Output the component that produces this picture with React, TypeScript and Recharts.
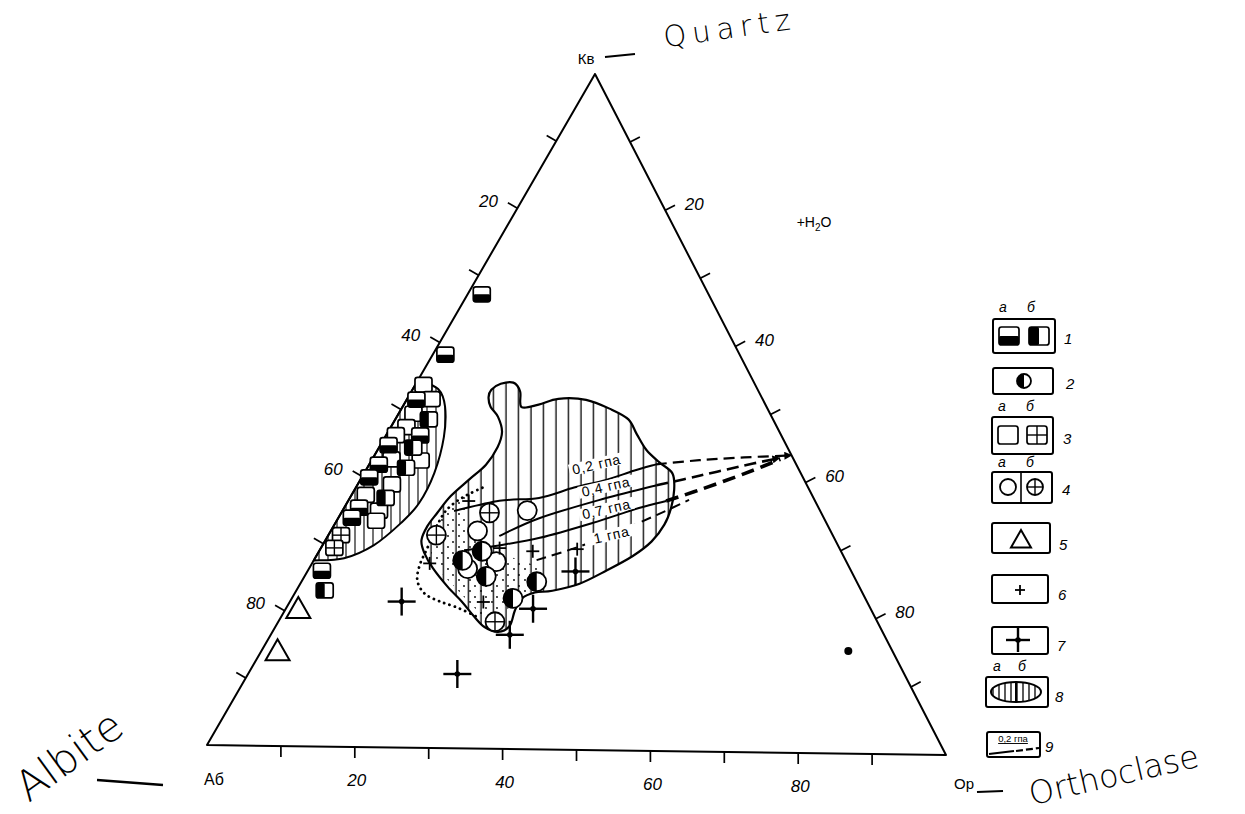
import React from 'react';
import { ScatterChart, Scatter, XAxis, YAxis } from 'recharts';

const W = 1245;
const H = 814;

// Ternary frame corners in chart units: Кв (apex), Аб (bottom-left), Ор (bottom-right)
const APEX = { x: 595, y: 74 };
const AB_V = { x: 207, y: 745 };
const OR_V = { x: 946, y: 755 };

type TP = [number, number]; // [Кв %, Ор %]; Аб = 100 - Кв - Ор

// ---------- data (ternary %) ----------
const TICK_VALUES = [10, 20, 30, 40, 50, 60, 70, 80, 90];
const LABELLED_TICKS = [20, 40, 60, 80];

const TYPE_1A: TP[] = [[67.2, 1.9], [58.2, 1.7], [51.5, 1.3], [46.2, 4.6], [44.7, 1.1], [41.8, 1.3], [39.9, 1.0], [35.4, 2.0], [33.9, 1.8], [26.0, 1.9]];
const TYPE_1B: TP[] = [[48.6, 4.5], [44.4, 4.6], [41.4, 5.2], [36.9, 4.8], [23.1, 3.8]];
const TYPE_3A: TP[] = [[53.7, 1.1], [51.6, 3.3], [49.4, 2.0], [47.4, 2.1], [46.2, 1.3], [42.5, 6.6], [42.6, 2.6], [38.9, 4.6], [37.3, 1.9], [35.0, 4.9], [33.5, 5.3]];
const TYPE_3B: TP[] = [[31.3, 1.7], [29.4, 1.8]];
const TYPE_2: TP[] = [[29.2, 21.9], [27.8, 20.0], [25.5, 24.4], [24.8, 31.6], [22.3, 29.7]];
const TYPE_4A: TP[] = [[35.3, 24.8], [32.2, 19.7], [27.7, 24.6], [26.6, 21.3]];
const TYPE_4B: TP[] = [[34.9, 19.9], [31.5, 14.5], [18.8, 29.1]];
const TYPE_5: TP[] = [[20.3, 1.7], [14.0, 2.2]];
const TYPE_6: TP[] = [[36.6, 16.2], [29.7, 24.0], [27.3, 15.8], [21.7, 26.0], [29.7, 34.5], [29.3, 28.7]];
const TYPE_7: TP[] = [[21.6, 15.0], [11.0, 28.1], [16.9, 32.1], [20.8, 33.2], [26.4, 36.0]];
const DOTS: TP[] = [[15.2, 78.8]];

const MAIN_FIELD: TP[] = [
  [52.0, 10.8], [53.1, 10.6], [54.0, 11.4], [54.2, 13.0], [52.9, 14.6], [50.6, 16.0], [51.0, 18.1], [51.9, 20.3],
  [51.8, 24.1], [50.4, 28.3], [49.0, 31.3], [46.8, 33.6], [44.5, 36.1], [42.7, 38.8], [41.1, 41.4], [38.7, 42.9],
  [36.0, 43.9], [33.5, 44.3], [31.0, 43.9], [28.8, 42.5], [26.6, 40.1], [24.6, 37.5], [23.5, 34.4], [23.2, 32.2],
  [22.3, 30.9], [20.5, 30.9], [18.2, 31.4], [17.3, 30.3], [18.0, 28.1], [19.6, 25.8], [21.7, 23.1], [23.9, 20.0],
  [26.6, 16.6], [28.8, 14.3], [30.7, 12.9], [32.8, 12.6], [34.8, 12.9], [37.3, 13.4], [39.8, 14.6], [42.0, 15.7],
  [44.6, 15.9], [46.9, 15.3], [49.1, 13.6], [50.6, 11.8],
];
const SQUARE_FIELD: TP[] = [[54.4, 0], [53.1, 3.4], [50.5, 5.7], [46.0, 7.9], [40.7, 9.4], [36.2, 9.7], [33.2, 8.8], [29.9, 6.9], [27.9, 3.9], [27.5, 0]];
const DOTTED_EDGE: TP[] = [[38.6, 17.0], [37.4, 15.4], [35.9, 14.2], [34.0, 13.8], [29.5, 14.3], [27.0, 14.6], [24.7, 15.5], [22.8, 17.5], [21.7, 20.1], [20.8, 23.0], [19.5, 26.3]];
const STIPPLE_FIELD: TP[] = [[37.5, 15.5], [34.5, 13.8], [31.0, 13.8], [28.5, 15.5], [26.0, 18.0], [23.5, 21.5], [21.0, 25.0], [19.5, 27.5], [20.5, 29.5], [23.5, 32.0], [26.5, 31.5], [28.5, 26.0], [31.5, 19.5], [35.0, 17.0]];

const LINE_02: TP[] = [[35.1, 15.0], [36.7, 20.3], [37.2, 25.4], [38.8, 29.3], [40.0, 33.0], [41.4, 36.0], [42.4, 38.5]];
const LINE_02_EXT: TP[] = [[42.4, 38.5], [43.1, 44.0], [43.6, 49.8], [44.0, 56.0]];
const LINE_04: TP[] = [[31.5, 23.0], [34.2, 27.0], [37.0, 33.6], [39.3, 40.2]];
const LINE_04_EXT: TP[] = [[39.3, 40.2], [40.8, 45.2], [42.4, 50.4], [43.6, 54.6]];
const LINE_07: TP[] = [[29.3, 19.4], [30.1, 23.7], [31.3, 28.6], [33.6, 34.5], [35.9, 39.6], [37.0, 42.7]];
const LINE_07_EXT: TP[] = [[37.0, 42.7], [38.7, 46.3], [41.2, 51.1], [43.4, 54.8]];
const LINE_1: TP[] = [[28.0, 29.9], [30.1, 34.6], [32.5, 38.8], [34.9, 42.5], [37.2, 45.7]];

const LINE_LABELS = [
  { kv: 42.3, or: 30.5, text: '0,2 гпа' },
  { kv: 39.0, or: 33.5, text: '0,4 гпа' },
  { kv: 35.7, or: 35.3, text: '0,7 гпа' },
  { kv: 31.9, or: 38.0, text: '1 гпа' },
];

// ---------- helpers ----------
const toXY = (kv: number, or: number) => {
  const ab = 100 - kv - or;
  return {
    x: (kv * APEX.x + ab * AB_V.x + or * OR_V.x) / 100,
    y: (kv * APEX.y + ab * AB_V.y + or * OR_V.y) / 100,
  };
};
const pts = (arr: TP[]) => arr.map(([kv, or]) => ({ ...toXY(kv, or), kv, or }));

type P = { x: number; y: number };
function smooth(points: P[], closed: boolean): string {
  const n = points.length;
  if (n < 2) return '';
  const get = (i: number) => (closed ? points[(i + n) % n] : points[Math.max(0, Math.min(n - 1, i))]);
  let d = `M${points[0].x},${points[0].y}`;
  const segs = closed ? n : n - 1;
  for (let i = 0; i < segs; i++) {
    const p0 = get(i - 1), p1 = get(i), p2 = get(i + 1), p3 = get(i + 2);
    const c1x = p1.x + (p2.x - p0.x) / 6, c1y = p1.y + (p2.y - p0.y) / 6;
    const c2x = p2.x - (p3.x - p1.x) / 6, c2y = p2.y - (p3.y - p1.y) / 6;
    d += ` C${c1x},${c1y} ${c2x},${c2y} ${p2.x},${p2.y}`;
  }
  if (closed) d += ' Z';
  return d;
}

const pathRenderer = (o: any) => (props: any) => {
  const p: P[] = props.points || [];
  let d: string;
  if (o.straight) d = 'M' + p.map((q) => `${q.x},${q.y}`).join(' L') + (o.closed ? ' Z' : '');
  else d = smooth(p, !!o.closed) + (o.closeStraight ? ' Z' : '');
  return (
    <path
      d={d}
      fill={o.fill || 'none'}
      stroke={o.stroke || 'none'}
      strokeWidth={o.strokeWidth || 1}
      strokeDasharray={o.dash}
      strokeLinecap={o.cap || 'butt'}
      strokeLinejoin="round"
      markerEnd={o.markerEnd}
    />
  );
};

const Empty = () => <g />;
const INK = '#000';

// ---------- marker shapes ----------
const Sq = ({ cx, cy, kind, s = 8.5 }: any) => (
  <g>
    <rect x={cx - s} y={cy - s + 1} width={2 * s} height={2 * s - 2} rx={2.5} fill="#fff" stroke={INK} strokeWidth={1.7} />
    {kind === '1a' && <rect x={cx - s} y={cy} width={2 * s} height={s - 1} rx={1.5} fill={INK} />}
    {kind === '1b' && <rect x={cx - s} y={cy - s + 1} width={s} height={2 * s - 2} rx={1.5} fill={INK} />}
    {kind === '3b' && (
      <g stroke={INK} strokeWidth={1.4}>
        <line x1={cx} y1={cy - s + 1} x2={cx} y2={cy + s - 1} />
        <line x1={cx - s} y1={cy} x2={cx + s} y2={cy} />
      </g>
    )}
  </g>
);
const Circ = ({ cx, cy, kind, r = 9.5 }: any) => (
  <g>
    <circle cx={cx} cy={cy} r={r} fill="#fff" stroke={INK} strokeWidth={1.8} />
    {kind === 'half' && <path d={`M${cx},${cy - r} A${r},${r} 0 0 0 ${cx},${cy + r} Z`} fill={INK} />}
    {kind === 'cross' && (
      <g stroke={INK} strokeWidth={1.4}>
        <line x1={cx - r} y1={cy} x2={cx + r} y2={cy} />
        <line x1={cx} y1={cy - r} x2={cx} y2={cy + r} />
      </g>
    )}
  </g>
);
const Tri = ({ cx, cy, s = 12 }: any) => (
  <polygon points={`${cx},${cy - s} ${cx - s},${cy + s * 0.75} ${cx + s},${cy + s * 0.75}`} fill="#fff" stroke={INK} strokeWidth={2} strokeLinejoin="miter" />
);
const SmallPlus = ({ cx, cy, s = 6.5 }: any) => (
  <g stroke={INK} strokeWidth={1.8}>
    <line x1={cx - s} y1={cy} x2={cx + s} y2={cy} />
    <line x1={cx} y1={cy - s} x2={cx} y2={cy + s} />
  </g>
);
const BigPlus = ({ cx, cy, s = 14 }: any) => (
  <g stroke={INK}>
    <line x1={cx - s} y1={cy} x2={cx + s} y2={cy} strokeWidth={2.4} />
    <line x1={cx} y1={cy - s} x2={cx} y2={cy + s} strokeWidth={2.4} />
    <circle cx={cx} cy={cy} r={2.8} fill={INK} stroke="none" />
  </g>
);

// ---------- frame ticks ----------
const NORMALS: any = { left: { x: -0.866, y: -0.5 }, right: { x: 0.889, y: -0.458 }, bottom: { x: 0, y: 1 } };
const LABEL_OFF: any = { left: { x: -29, y: -7 }, right: { x: 29, y: -6 }, bottom: { x: 2, y: 33 } };
const TICKS = [
  ...TICK_VALUES.map((v) => ({ ...toXY(100 - v, 0), side: 'left', val: v })),
  ...TICK_VALUES.map((v) => ({ ...toXY(100 - v, v), side: 'right', val: v })),
  ...TICK_VALUES.map((v) => ({ ...toXY(0, v), side: 'bottom', val: v })),
];
const TickShape = (p: any) => {
  const { cx, cy, payload } = p;
  const n = NORMALS[payload.side];
  const off = LABEL_OFF[payload.side];
  return (
    <g>
      <line x1={cx} y1={cy} x2={cx + n.x * 11} y2={cy + n.y * 11} stroke={INK} strokeWidth={1.7} />
      {LABELLED_TICKS.includes(payload.val) && (
        <text x={cx + off.x} y={cy + off.y} textAnchor="middle" dominantBaseline="central" fontStyle="italic" fontSize={17} fontFamily="Liberation Sans, sans-serif" fill={INK}>
          {payload.val}
        </text>
      )}
    </g>
  );
};

const LabelShape = (p: any) => {
  const { cx, cy, payload } = p;
  return (
    <g transform={`rotate(-13 ${cx} ${cy})`}>
      <rect x={cx - 28} y={cy - 6} width={56} height={12} fill="#fff" />
      <text x={cx} y={cy} textAnchor="middle" dominantBaseline="central" fontSize={14} fontFamily="Liberation Sans, sans-serif" letterSpacing={0.8} fill={INK}>
        {payload.text}
      </text>
    </g>
  );
};

const FRAME: TP[] = [[100, 0], [0, 0], [0, 100]];

const pathSeries = (data: TP[], renderer: any) => (
  <Scatter data={pts(data)} shape={Empty} line={renderer} lineType="joint" isAnimationActive={false} />
);

// ---------- legend (right side) ----------
const hw = 'DejaVu Sans, sans-serif';
const LegendBox = ({ x, y, w, h }: any) => <rect x={x} y={y} width={w} height={h} rx={2} fill="#fff" stroke={INK} strokeWidth={2} />;
const Num = ({ x, y, t }: any) => (
  <text x={x} y={y} fontSize={15} fontStyle="italic" fontFamily="Liberation Sans, sans-serif" fill={INK} dominantBaseline="central">{t}</text>
);
const AB = ({ x1, x2, y }: any) => (
  <g fontSize={14} fontStyle="italic" fontFamily="Liberation Sans, sans-serif" fill={INK}>
    <text x={x1} y={y} textAnchor="middle">a</text>
    <text x={x2} y={y} textAnchor="middle">б</text>
  </g>
);

const LegendOverlay = () => (
  <svg width={W} height={H} style={{ position: 'absolute', left: 0, top: 0, pointerEvents: 'none' }}>
    {/* legend */}
    <AB x1={1003} x2={1031} y={312} />
    <LegendBox x={993} y={319} w={62} h={34} />
    <Sq cx={1009} cy={336} kind="1a" s={10} />
    <Sq cx={1039} cy={336} kind="1b" s={10} />
    <Num x={1064} y={338} t="1" />

    <LegendBox x={993} y={368} w={60} h={26} />
    <Circ cx={1024} cy={381} kind="half" r={7} />
    <Num x={1066} y={383} t="2" />

    <AB x1={1002} x2={1030} y={411} />
    <LegendBox x={992} y={417} w={61} h={37} />
    <Sq cx={1008} cy={435} kind="3a" s={10} />
    <Sq cx={1037} cy={435} kind="3b" s={10} />
    <Num x={1063} y={438} t="3" />

    <AB x1={1002} x2={1030} y={467} />
    <LegendBox x={992} y={472} w={60} h={31} />
    <line x1={1021} y1={472} x2={1021} y2={503} stroke={INK} strokeWidth={1.6} />
    <Circ cx={1008} cy={487} kind="open" r={8} />
    <Circ cx={1035} cy={487} kind="cross" r={8} />
    <Num x={1062} y={489} t="4" />

    <LegendBox x={992} y={523} w={58} h={30} />
    <Tri cx={1021} cy={540} s={10} />
    <Num x={1059} y={544} t="5" />

    <LegendBox x={992} y={575} w={56} h={28} />
    <SmallPlus cx={1020} cy={590} s={5} />
    <Num x={1058} y={594} t="6" />

    <LegendBox x={992} y={627} w={56} h={27} />
    <BigPlus cx={1018} cy={640} s={12} />
    <Num x={1057} y={645} t="7" />

    <AB x1={997} x2={1022} y={671} />
    <LegendBox x={986} y={677} w={62} h={30} />
    <ellipse cx={1016} cy={692} rx={25} ry={10} fill="url(#vhatchLegend)" stroke={INK} strokeWidth={2} />
    <line x1={1016} y1={682} x2={1016} y2={702} stroke={INK} strokeWidth={2} />
    <Num x={1055} y={696} t="8" />

    <LegendBox x={987} y={732} w={53} h={25} />
    <text x={1013} y={742} textAnchor="middle" fontSize={9.5} fontFamily="Liberation Sans, sans-serif" fill={INK} textDecoration="underline">0,2 гпа</text>
    <path d="M989,754 L1014,751" stroke={INK} strokeWidth={2.2} />
    <path d="M1016,751 L1039,748" stroke={INK} strokeWidth={2.2} strokeDasharray="7 3" />
    <Num x={1045} y={746} t="9" />

    {/* vertex names and handwritten annotations */}
    <text x={586} y={64} textAnchor="middle" fontSize={15} fontFamily="Liberation Sans, sans-serif" fill={INK}>Кв</text>
    <line x1={605} y1={57} x2={635} y2={54} stroke={INK} strokeWidth={2} />
    <text x={730} y={38} textAnchor="middle" fontSize={29} fontWeight={200} fontFamily={hw} letterSpacing={6} fill={INK} transform="rotate(-8 730 30)">Quartz</text>
    <text x={814} y={227} textAnchor="middle" fontSize={14} fontFamily="Liberation Sans, sans-serif" fill={INK}>
      +H<tspan fontSize={10} dy={4}>2</tspan><tspan dy={-4}>O</tspan>
    </text>

    <text x={70} y={770} textAnchor="middle" fontSize={42} fontWeight={200} fontFamily={hw} fill={INK} transform="rotate(-36 70 757)">Albite</text>
    <line x1={97} y1={780} x2={163} y2={785} stroke={INK} strokeWidth={2.5} />
    <text x={214} y={785} textAnchor="middle" fontSize={16} fontFamily="Liberation Sans, sans-serif" fill={INK}>Аб</text>

    <text x={964} y={789} textAnchor="middle" fontSize={15} fontFamily="Liberation Sans, sans-serif" fill={INK}>Ор</text>
    <line x1={977} y1={792} x2={1003} y2={791} stroke={INK} strokeWidth={2.2} />
    <text x={1114} y={786} textAnchor="middle" fontSize={32} fontWeight={200} fontFamily={hw} fill={INK} transform="rotate(-13 1114 776)">Orthoclase</text>
  </svg>
);

export default function App() {
  return (
    <div style={{ position: 'absolute', left: 0, top: 0, width: W, height: H, background: '#fff' }}>
      <svg width={0} height={0} style={{ position: 'absolute' }}>
        <defs>
          <pattern id="vhatch" patternUnits="userSpaceOnUse" width={12.5} height={10}>
            <line x1={6} y1={0} x2={6} y2={10} stroke={INK} strokeWidth={1.3} />
          </pattern>
          <pattern id="vhatchSparse" patternUnits="userSpaceOnUse" width={9} height={10}>
            <line x1={4} y1={0} x2={4} y2={10} stroke={INK} strokeWidth={1.1} />
          </pattern>
          <pattern id="vhatchLegend" patternUnits="userSpaceOnUse" width={6} height={10}>
            <line x1={3} y1={0} x2={3} y2={10} stroke={INK} strokeWidth={1.3} />
          </pattern>
          <pattern id="stipple" patternUnits="userSpaceOnUse" width={11} height={11}>
            <circle cx={2} cy={3} r={0.9} fill={INK} />
            <circle cx={8} cy={8} r={0.9} fill={INK} />
          </pattern>
          <marker id="arrowHead" viewBox="0 0 10 10" refX={9} refY={5} markerWidth={16} markerHeight={8} markerUnits="userSpaceOnUse" orient="auto">
            <path d="M0,0 L10,5 L0,10 z" fill={INK} />
          </marker>
        </defs>
      </svg>
      <ScatterChart width={W} height={H} margin={{ top: 0, right: 0, bottom: 0, left: 0 }}>
        <XAxis type="number" dataKey="x" domain={[0, W]} hide allowDataOverflow />
        <YAxis type="number" dataKey="y" domain={[0, H]} reversed hide allowDataOverflow />

        {pathSeries(MAIN_FIELD, pathRenderer({ closed: true, fill: 'url(#vhatch)' }))}
        {pathSeries(STIPPLE_FIELD, pathRenderer({ closed: true, fill: 'url(#stipple)' }))}
        {pathSeries(SQUARE_FIELD, pathRenderer({ closeStraight: true, fill: 'url(#vhatchSparse)', stroke: INK, strokeWidth: 2 }))}
        {pathSeries(MAIN_FIELD, pathRenderer({ closed: true, stroke: INK, strokeWidth: 2.2 }))}
        {pathSeries(DOTTED_EDGE, pathRenderer({ stroke: INK, strokeWidth: 2.8, dash: '0.1 5.5', cap: 'round' }))}

        {pathSeries(LINE_02, pathRenderer({ stroke: INK, strokeWidth: 2 }))}
        {pathSeries(LINE_02_EXT, pathRenderer({ stroke: INK, strokeWidth: 2.2, dash: '11 6', markerEnd: 'url(#arrowHead)' }))}
        {pathSeries(LINE_04, pathRenderer({ stroke: INK, strokeWidth: 2 }))}
        {pathSeries(LINE_04_EXT, pathRenderer({ stroke: INK, strokeWidth: 2.6, dash: '12 6', markerEnd: 'url(#arrowHead)' }))}
        {pathSeries(LINE_07, pathRenderer({ stroke: INK, strokeWidth: 2 }))}
        {pathSeries(LINE_07_EXT, pathRenderer({ stroke: INK, strokeWidth: 3.6, dash: '13 7' }))}
        {pathSeries(LINE_1, pathRenderer({ stroke: INK, strokeWidth: 2, dash: '10 6' }))}

        {pathSeries(FRAME, pathRenderer({ straight: true, closed: true, stroke: INK, strokeWidth: 2 }))}
        <Scatter data={TICKS} shape={TickShape} isAnimationActive={false} />

        <Scatter data={LINE_LABELS.map((l) => ({ ...toXY(l.kv, l.or), ...l }))} shape={LabelShape} isAnimationActive={false} />

        <Scatter data={pts(TYPE_3A)} shape={(p: any) => <Sq cx={p.cx} cy={p.cy} kind="3a" />} isAnimationActive={false} />
        <Scatter data={pts(TYPE_1A)} shape={(p: any) => <Sq cx={p.cx} cy={p.cy} kind="1a" />} isAnimationActive={false} />
        <Scatter data={pts(TYPE_1B)} shape={(p: any) => <Sq cx={p.cx} cy={p.cy} kind="1b" />} isAnimationActive={false} />
        <Scatter data={pts(TYPE_3B)} shape={(p: any) => <Sq cx={p.cx} cy={p.cy} kind="3b" />} isAnimationActive={false} />
        <Scatter data={pts(TYPE_5)} shape={(p: any) => <Tri cx={p.cx} cy={p.cy} />} isAnimationActive={false} />
        <Scatter data={pts(TYPE_4A)} shape={(p: any) => <Circ cx={p.cx} cy={p.cy} kind="open" />} isAnimationActive={false} />
        <Scatter data={pts(TYPE_4B)} shape={(p: any) => <Circ cx={p.cx} cy={p.cy} kind="cross" />} isAnimationActive={false} />
        <Scatter data={pts(TYPE_2)} shape={(p: any) => <Circ cx={p.cx} cy={p.cy} kind="half" />} isAnimationActive={false} />
        <Scatter data={pts(TYPE_6)} shape={(p: any) => <SmallPlus cx={p.cx} cy={p.cy} />} isAnimationActive={false} />
        <Scatter data={pts(TYPE_7)} shape={(p: any) => <BigPlus cx={p.cx} cy={p.cy} />} isAnimationActive={false} />
        <Scatter data={pts(DOTS)} shape={(p: any) => <circle cx={p.cx} cy={p.cy} r={4} fill={INK} />} isAnimationActive={false} />
      </ScatterChart>
      <LegendOverlay />
    </div>
  );
}
